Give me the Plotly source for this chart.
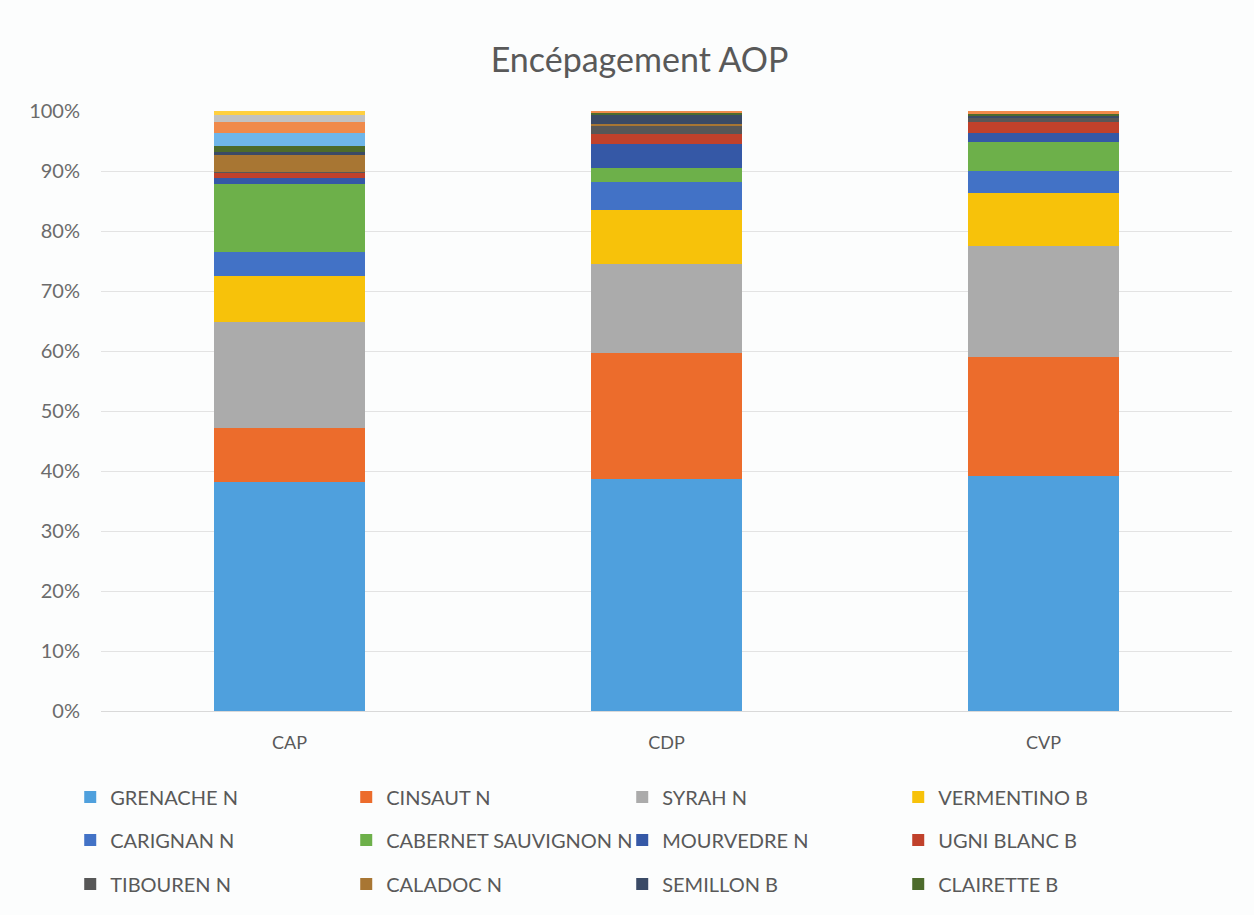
import plotly.graph_objects as go

# Appellations
categories = ["CAP", "CDP", "CVP"]

# Share of each grape variety per appellation (%), bottom to top
grenache_n = [38.2, 38.7, 39.0]
cinsaut_n = [9.0, 21.0, 19.8]
syrah_n = [17.6, 14.8, 18.5]
vermentino_b = [7.7, 9.0, 8.7]
carignan_n = [4.0, 4.7, 3.7]
cabernet_sauvignon_n = [11.4, 2.3, 4.8]
mourvedre_n = [0.9, 4.0, 1.6]
ugni_blanc_b = [0.9, 1.6, 1.7]
tibouren_n = [0.2, 1.4, 0.8]
caladoc_n = [2.8, 0.4, 0.0]
semillon_b = [0.4, 1.4, 0.3]
clairette_b = [1.0, 0.5, 0.3]
autre_1 = [2.3, 0.0, 0.0]
autre_2 = [1.8, 0.2, 0.5]
autre_3 = [1.1, 0.0, 0.0]
autre_4 = [0.7, 0.0, 0.0]

series = [
    ("GRENACHE N", grenache_n, "#4fa0dd", "legend"),
    ("CINSAUT N", cinsaut_n, "#ec6c2c", "legend"),
    ("SYRAH N", syrah_n, "#ababab", "legend"),
    ("VERMENTINO B", vermentino_b, "#f7c20a", "legend"),
    ("CARIGNAN N", carignan_n, "#4272c6", "legend2"),
    ("CABERNET SAUVIGNON N", cabernet_sauvignon_n, "#6db04a", "legend2"),
    ("MOURVEDRE N", mourvedre_n, "#3558a6", "legend2"),
    ("UGNI BLANC B", ugni_blanc_b, "#c0412b", "legend2"),
    ("TIBOUREN N", tibouren_n, "#575757", "legend3"),
    ("CALADOC N", caladoc_n, "#a87633", "legend3"),
    ("SEMILLON B", semillon_b, "#3a4a66", "legend3"),
    ("CLAIRETTE B", clairette_b, "#4d6b2c", "legend3"),
]
extras = [
    ("autre 1", autre_1, "#6fb6ea"),
    ("autre 2", autre_2, "#f08a4b"),
    ("autre 3", autre_3, "#c2c2c2"),
    ("autre 4", autre_4, "#ffd040"),
]

fig = go.Figure()
for name, vals, color, lg in series:
    fig.add_trace(go.Bar(x=categories, y=vals, name=name, marker_color=color,
                         marker_line_width=0, legend=lg))
for name, vals, color in extras:
    fig.add_trace(go.Bar(x=categories, y=vals, name=name, marker_color=color,
                         marker_line_width=0, showlegend=False))

FONT = "Lato, 'Open Sans', sans-serif"
legend_common = dict(
    orientation="h", xref="container", yref="container",
    x=0.056, xanchor="left", yanchor="middle",
    traceorder="normal",
    entrywidth=231, entrywidthmode="pixels",
    font=dict(family=FONT, size=20, color="#595959"),
    bgcolor="rgba(0,0,0,0)", itemclick=False, itemdoubleclick=False,
)

fig.update_layout(
    barmode="stack",
    barnorm="percent",
    bargap=0.6,
    width=1254, height=915,
    paper_bgcolor="#fcfdfd",
    plot_bgcolor="#fcfdfd",
    margin=dict(l=101, r=22, t=111, b=204),
    title=dict(text="Encépagement AOP", x=0.51, xanchor="center",
               y=1 - 60 / 915, yanchor="middle",
               font=dict(family=FONT, size=34, color="#595959")),
    font=dict(family=FONT, color="#595959"),
    yaxis=dict(range=[0, 100], dtick=10, ticksuffix="%",
               gridcolor="#e3e3e3", gridwidth=1, zeroline=False,
               showline=False, ticks="", ticklabelstandoff=20,
               tickfont=dict(family=FONT, size=20, color="#6b6b6b")),
    xaxis=dict(showline=True, linecolor="#d9d9d9", ticks="",
               ticklabelstandoff=15,
               tickfont=dict(family=FONT, size=18, color="#595959")),
    legend=dict(legend_common, y=1 - 797 / 915),
    legend2=dict(legend_common, y=1 - 840 / 915),
    legend3=dict(legend_common, y=1 - 884 / 915),
)

fig.write_html("out.html")
